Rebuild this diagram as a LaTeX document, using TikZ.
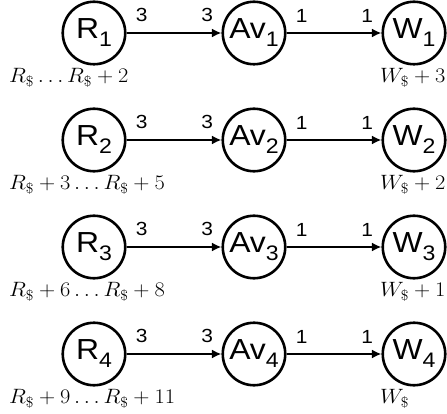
\documentclass[tikz,border=0pt]{standalone}
\usepackage[no-math]{fontspec}
\newfontfamily\arialf{Liberation Sans}
\usetikzlibrary{arrows.meta}
\newcommand{\nlab}[2]{\scalebox{1.1}[1]{\arialf\fontsize{29}{29}\selectfont #1\raisebox{-8pt}{\fontsize{21}{21}\selectfont #2}}}
\newcommand{\wlab}[1]{\scalebox{1.1}[1]{\arialf\fontsize{19}{19}\selectfont #1}}
\newcommand{\mlab}[1]{\scalebox{1.08}[1]{\fontsize{20}{20}\selectfont$#1$}}
\begin{document}
\begin{tikzpicture}[x=1pt,y=-1pt,
  state/.style={circle,draw,line width=2.6pt,minimum size=62.5pt,inner sep=0pt},
  flow/.style={line width=1.9pt,-{Latex[length=9.5pt,width=9pt]}},
  wt/.style={inner sep=0pt,anchor=south,yshift=10pt},
  caplab/.style={anchor=north west,inner sep=0pt}]
\useasboundingbox (0,0) rectangle (447,414);
\foreach \i/\y/\rl/\wl in {1/33/{R_\$\ldots R_\$+2}/{W_\$+3},
                           2/140/{R_\$+3\ldots R_\$+5}/{W_\$+2},
                           3/247/{R_\$+6\ldots R_\$+8}/{W_\$+1},
                           4/354/{R_\$+9\ldots R_\$+11}/{W_\$}}{
  \node[state] (r\i) at (94,\y) {\nlab{R}{\i}};
  \node[state] (a\i) at (254,\y) {\nlab{Av}{\i}};
  \node[state] (w\i) at (414,\y) {\nlab{W}{\i}};
  \draw[flow] (r\i) -- node[wt,pos=0.16] (t\i a) {\wlab{3}} node[wt,pos=0.85] (t\i b) {\wlab{3}} (a\i);
  \draw[flow] (a\i) -- node[wt,pos=0.16] (u\i a) {\wlab{1}} node[wt,pos=0.85] (u\i b) {\wlab{1}} (w\i);
  \node[caplab] (rl\i) at (9,\y+35) {\mlab{\rl}};
  \node[caplab] (wl\i) at (380,\y+35) {\mlab{\wl}};
}
\end{tikzpicture}
\end{document}
